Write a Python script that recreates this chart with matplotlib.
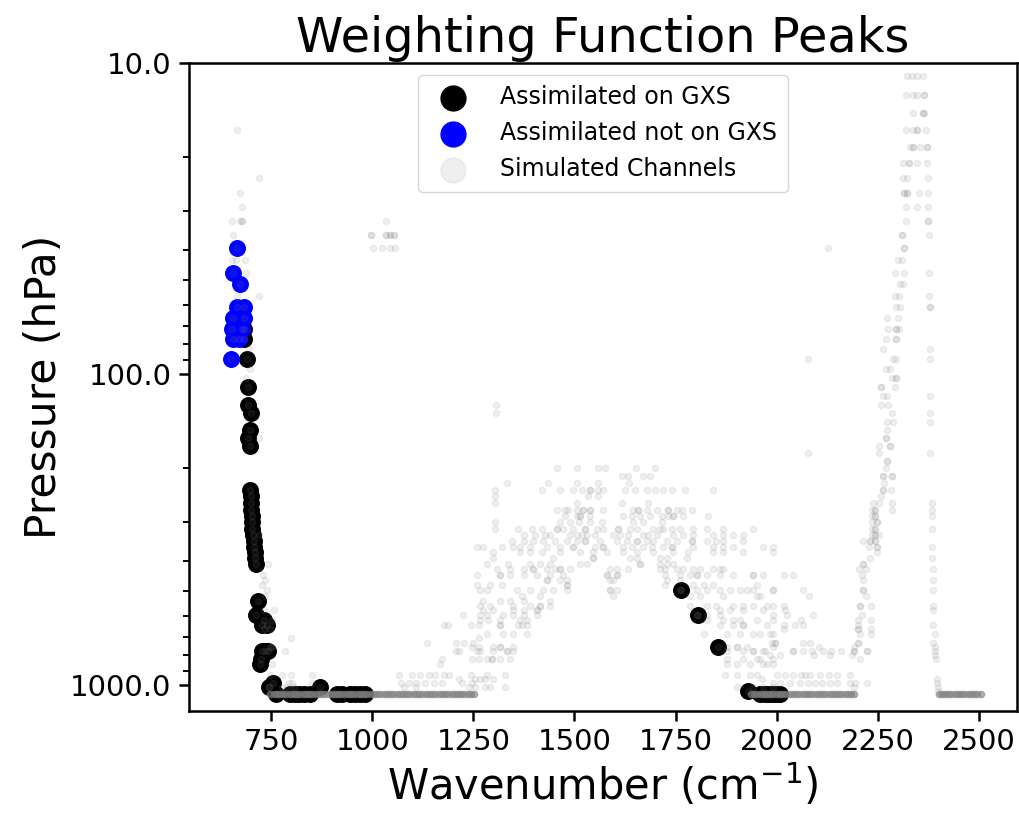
import matplotlib
matplotlib.use("Agg")
import matplotlib.pyplot as plt
from matplotlib.ticker import FixedLocator, FormatStrFormatter, LogLocator, NullFormatter

# Canaux assimilés présents sur GXS (noir) : nombre d'onde (cm-1) et pic de la fonction de poids (hPa)
gxs_wn = [682, 682, 691, 692, 692, 701, 699, 692, 697, 697, 701, 701, 701, 702, 703, 703, 705,
          707, 707, 710, 711, 713, 717, 713, 732, 728, 740, 728, 734, 742, 725, 722, 755, 746,
          761, 797, 808, 820, 832, 845, 872, 912, 925, 945, 958, 970, 982,
          1763, 1806, 1854, 1928, 1958, 1971, 1979, 1988, 1999, 2007]
gxs_p = [71.54, 77.24, 89.52, 110.24, 125.65, 133.85, 151.27, 160.50, 170.08, 235.23, 247.41,
         259.97, 272.92, 286.26, 300.0, 314.14, 328.68, 343.62, 358.97, 374.72, 390.89, 407.47,
         535.23, 596.31, 617.51, 639.14, 639.14, 777.79, 777.79, 777.79, 827.37, 852.79, 986.07,
         1013.95, 1070.92, 1070.92, 1070.92, 1070.92, 1070.92, 1070.92, 1013.95, 1070.92,
         1070.92, 1070.92, 1070.92, 1070.92, 1070.92,
         496.63, 596.31, 753.63, 1042.23, 1070.92, 1070.92, 1070.92, 1070.92, 1070.92, 1070.92]

# Canaux assimilés absents de GXS (bleu)
nogxs_wn = [666, 655, 674, 666, 682, 655, 682, 654, 678, 655, 670, 651]
nogxs_p = [39.26, 47.19, 51.53, 60.99, 60.99, 66.13, 66.13, 71.54, 71.54, 77.24, 77.24, 89.52]

# Canaux simulés, par niveau de pression : (hPa, [nombres d'onde])
sim_co2_lw = [
    (16.43, [666]), (23.45, [721]), (26.18, [674]), (29.12, [679]),
    (32.27, [654, 674, 678, 678]), (35.65, [656]), (43.10, [654, 662, 685]),
    (47.19, [689]), (56.13, [666, 720]), (83.23, [695]), (96.11, [697]),
    (103.02, [688]), (160.50, [720]), (328.68, [721]), (407.47, [742]),
    (441.88, [730]), (459.71, [736]), (477.96, [728]), (496.63, [740]),
    (515.72, [736]), (575.53, [732, 757]), (617.51, [753]), (661.19, [732, 748]),
    (706.57, [798]), (753.63, [748, 753]), (777.79, [785]), (852.79, [751]),
    (931.52, [748, 777, 798, 851]), (986.07, [794, 802, 851]),
    (1013.95, [744, 777, 790, 806]),
]

sim_window = [
    (32.27, [1035]),
    (35.65, [996, 996, 1033, 1033, 1045, 1045, 1055, 1055]),
    (39.26, [1002, 1024, 1045, 1057]),
]

sim_h2o = [
    (39.26, [2126]), (89.52, [2078]), (125.65, [1305]), (133.85, [1305]), (180.02, [2078]),
    (200.99, [1456, 1506, 1559, 1576, 1652, 1699]),
    (212.03, [1617, 1633, 1670, 1687]),
    (223.44, [1333, 1435, 1506, 1559, 1635]),
    (235.23, [1304, 1419, 1464, 1497, 1518, 1538, 1538, 1559, 1571, 1625, 1650, 1679, 1699,
              1720, 1740, 1773, 1843]),
    (247.41, [1304, 1534, 1559]),
    (259.97, [1304, 1506, 1617, 1682]),
    (272.92, [1456, 1477, 1485, 1506, 1522, 1522, 1538, 1538, 1571, 1645, 1658, 1658, 1679,
              1703, 1732, 1732, 1753, 1765, 1790]),
    (286.26, [1477, 1506, 1514, 1514, 1538, 1621, 1641, 1662, 1687, 1716, 1732, 1744, 1744,
              1769, 1831]),
    (300.0, [1304, 1464, 1489, 1510, 1538, 1567, 1645, 1670, 1716]),
    (314.14, [1304, 1361, 1394, 1419, 1456, 1456, 1472, 1497, 1526, 1526, 1555, 1571, 1608,
              1608, 1637, 1654, 1695, 1711, 1720, 1740, 1761, 1794, 1827, 1868, 1942]),
    (328.68, [1374, 1403, 1427, 1440, 1489, 1506, 1518, 1530, 1551, 1596, 1613, 1633, 1670,
              1682, 1703, 1744, 1769, 1794, 1843, 1868, 1893, 1917]),
    (343.62, [1345, 1374, 1398, 1423, 1452, 1481, 1506, 1526, 1526, 1563, 1604, 1629, 1654,
              1654, 1679, 1695, 1728, 1753, 1790, 1790, 1827, 1851, 1868, 1917]),
    (358.97, [1259, 1275, 1320, 1349, 1365, 1390, 1431, 1464, 1497, 1497, 1551, 1571, 1571,
              1621, 1641, 1670, 1691, 1720, 1740, 1740, 1794, 1843, 1868, 1893, 1967, 1992]),
    (374.72, [1299, 1365, 1390, 1419, 1464, 1514, 1547, 1580, 1621, 1654, 1695, 1744, 1781,
              1843, 1868, 1917, 1992]),
    (390.89, [1299, 1448, 1547, 1547, 1637, 1654, 1711, 1728, 1777]),
    (407.47, [1283, 1336, 1390, 1415, 1440, 1514, 1530, 1662, 1662, 1711, 1728, 1744]),
    (424.47, [1308, 1341, 1374, 1398, 1398, 1431, 1452, 1464, 1464, 1489, 1588, 1604, 1633,
              1711, 1723, 1753, 1769, 1794, 1810, 1843, 1860, 1868]),
    (441.88, [1259, 1316, 1316, 1341, 1374, 1407, 1440, 1472, 1580, 1580, 1604, 1604, 1723,
              1761, 1786, 1802, 1802, 1827, 1860, 1893, 1942, 1942, 1967, 2017, 2041]),
    (459.71, [1431, 1431, 1464, 1481, 1588, 1596, 1728, 1761]),
    (477.96, [1259, 1291, 1320, 1481, 1481, 1723, 1794, 1819, 1843, 1950]),
    (496.63, [1266, 1283, 1357, 1390, 1423, 1448, 1481, 1588, 1588, 1604, 1761, 1802, 1827,
              1860, 1885, 1910, 1926, 1942, 1992, 1992, 2066]),
    (515.72, [1370, 1415, 1596, 1786, 1810, 1868, 1950, 1959, 2080]),
    (535.23, [1275, 1316, 1341, 1374, 1440]),
    (555.17, [1266, 1291, 1349, 1390, 1415, 1415, 1440, 1786, 1827, 1851, 1893, 1917, 1942,
              1975, 1992, 2017]),
    (575.53, [1275, 1299, 1349, 1374, 1407, 1407, 1860, 1885, 1917, 1967, 2020]),
    (596.31, [1225, 1266, 1283, 1324, 1349, 1374, 1407, 1802, 1827, 1860, 1992, 2025, 2089]),
    (617.51, [1267, 1287, 1316, 1365, 1382, 1827, 1868, 1893, 1910, 1950, 1992, 2061]),
    (639.14, [1177, 1188, 1243, 1263, 1316, 1316, 1361, 1370, 1382, 1860, 1893, 1917, 1917,
              1975, 2017, 2045, 2064]),
    (661.19, [2017]),
    (683.67, [1283, 1324, 1349, 1382, 1819, 1876, 1910, 1942, 1983, 1959, 1992]),
    (706.57, [1263]),
    (729.89, [1136, 1206, 1226, 1250, 1988, 1996, 1996, 2066, 2082]),
    (753.63, [1246, 1263, 1299, 1316, 1316, 1349, 1876, 1901, 1901, 1926, 1992, 2104]),
    (777.79, [1208, 1214, 1259, 1267, 1299, 1333, 1333, 1349, 1876, 1917, 1942, 1942, 1967,
              1971, 2041, 2041, 2066, 2086, 2115, 2135, 2160]),
    (802.37, [1983, 2008, 2091, 2132]),
    (827.37, [1173, 1246, 1263, 1283, 1295, 1295, 1316, 1341, 1876, 1917, 1950, 1959, 1992]),
    (852.79, [1168, 1876, 1901, 1934, 1967, 1975, 1992]),
    (931.52, [1066, 1099, 1119, 1140, 1156, 1177, 1189, 1243, 1283, 1328, 1872, 1901, 1934,
              1950, 2000, 2020, 2041, 2061, 2070, 2082, 2107, 2128, 2148, 2181]),
    (958.59, [1214, 1255, 1267, 1279, 1299, 1963]),
    (986.07, [1070, 1090, 1107, 1131, 1152, 1173, 1222, 1247, 1992, 2008, 2033, 2057, 2078,
              2094, 2111, 2132, 2148, 2181, 2193]),
    (1013.95, [1078, 1107, 1239, 1255, 1279, 1291, 1328, 1901, 1942, 1967, 1992]),
]

sim_co2_sw = [
    (11.00, [2321, 2334, 2346, 2361]), (12.65, [2320, 2338, 2346, 2364, 2364]),
    (14.46, [2336, 2361, 2361, 2364]), (16.43, [2320, 2336, 2348, 2348, 2368]),
    (18.58, [2329, 2338, 2338, 2353, 2371, 2371]), (20.92, [2312, 2326, 2326, 2348, 2371]),
    (23.45, [2312, 2321, 2375]), (26.18, [2314, 2314, 2321, 2321, 2351, 2373]),
    (29.12, [2320, 2346, 2375]), (32.27, [2320, 2375, 2375]), (35.65, [2309, 2309, 2377]),
    (39.26, [2314, 2314]), (43.10, [2300, 2309]), (47.19, [2292, 2314, 2377]),
    (51.53, [2305, 2311]), (56.13, [2292, 2303, 2377]), (60.99, [2296, 2305, 2379, 2379]),
    (66.13, [2273, 2300]), (71.54, [2276, 2296, 2296, 2303]), (77.24, [2270, 2295, 2295]),
    (83.23, [2263, 2380]), (89.52, [2288, 2296, 2380]), (96.11, [2270, 2280]),
    (103.02, [2284, 2295, 2295]), (110.24, [2257, 2258, 2292]), (117.78, [2262, 2272, 2380]),
    (125.65, [2257, 2276]), (133.85, [2286, 2380]), (142.39, [2273, 2287, 2380]),
    (151.27, [2272]), (160.50, [2270, 2270]), (170.08, [2252, 2279, 2279]),
    (180.02, [2252, 2380]), (190.32, [2273, 2273]), (200.99, [2270]),
    (212.03, [2262, 2262, 2284, 2284]), (223.44, [2266]), (235.23, [2262, 2262, 2283]),
    (247.41, [2257]), (259.97, [2239, 2254, 2284, 2383]), (272.92, [2235, 2243, 2243, 2284, 2383]),
    (286.26, [2235, 2243, 2243, 2383]), (300.0, [2235, 2247, 2247]),
    (314.14, [2235, 2243, 2243, 2385]), (328.68, [2235, 2243, 2243, 2254]),
    (343.62, [2214, 2231, 2231, 2243, 2243]), (358.97, [2229, 2247, 2247, 2385]),
    (374.72, [2247]), (390.89, [2231, 2385]), (407.47, [2214, 2214]),
    (424.47, [2204, 2221, 2387]), (441.88, [2212]), (459.71, [2213, 2387]),
    (496.63, [2214, 2214, 2387]), (515.72, [2221]), (555.17, [2207, 2207, 2232, 2387]),
    (575.53, [2387]), (596.31, [2212]), (617.51, [2202, 2232]), (639.14, [2202, 2387]),
    (661.19, [2202, 2202, 2232]), (683.67, [2207, 2232, 2391]), (729.89, [2202, 2202, 2387]),
    (753.63, [2190, 2391]), (777.79, [2190, 2190, 2223, 2223, 2391]), (802.37, [2185, 2391]),
    (827.37, [2207, 2394]), (958.59, [2395]), (986.07, [2223, 2397]),
    (1013.95, [2190, 2399]), (1042.23, [2398]),
]

# Canaux simulés dont le pic est à la surface (très denses)
sfc_p = 1070.92
sfc_wn = [748, 756, 764, 772, 780, 788, 796, 804, 812, 820, 828, 836, 844, 852, 860, 868,
          876, 884, 892, 900, 908, 916, 924, 932, 940, 948, 956, 964, 972, 980, 988, 996,
          1004, 1012, 1020, 1028, 1036, 1044, 1052, 1060, 1068, 1076, 1084, 1092, 1100, 1108,
          1116, 1124, 1132, 1140, 1148, 1156, 1164, 1172, 1180, 1188, 1196, 1204, 1212, 1220,
          1228, 1236, 1244, 1252,
          1936, 1944, 1952, 1960, 1968, 1976, 1984, 1992, 2000, 2008, 2016, 2024, 2032, 2040,
          2048, 2056, 2064, 2072, 2080, 2088, 2096, 2104, 2112, 2120, 2128, 2136, 2144, 2152,
          2160, 2168, 2176, 2184, 2192,
          2400, 2408, 2416, 2424, 2432, 2440, 2448, 2456, 2464, 2472, 2480, 2488, 2496, 2504]

y_ticks = [10, 100, 1000]
x_ticks = [750, 1000, 1250, 1500, 1750, 2000, 2250, 2500]


def aplatir(*groupes):
    xs, ys = [], []
    for groupe in groupes:
        for p, wns in groupe:
            xs += wns
            ys += [p] * len(wns)
    return xs, ys


sim_wn, sim_p = aplatir(sim_co2_lw, sim_window, sim_h2o, sim_co2_sw)
# les canaux assimilés font aussi partie des canaux simulés
sim_wn += gxs_wn + nogxs_wn
sim_p += gxs_p + nogxs_p

fig = plt.figure(figsize=(10.19, 8.15), dpi=100)
ax = fig.add_axes([189 / 1019, 1 - 711 / 815, (1017 - 189) / 1019, (711 - 63) / 815])

ax.scatter(gxs_wn, gxs_p, s=125, color="black", label="Assimilated on GXS", zorder=2)
ax.scatter(nogxs_wn, nogxs_p, s=125, color="blue", label="Assimilated not on GXS", zorder=3)
ax.scatter(sim_wn, sim_p, s=20, color="gray", alpha=0.12, label="Simulated Channels", zorder=4)
ax.scatter(sfc_wn, [sfc_p] * len(sfc_wn), s=20, color="gray", alpha=0.6, zorder=4)

ax.set_yscale("log")
ax.set_ylim(1212, 10)
ax.set_xlim(547, 2594)
ax.yaxis.set_major_locator(FixedLocator(y_ticks))
ax.yaxis.set_major_formatter(FormatStrFormatter("%.1f"))
ax.yaxis.set_minor_locator(LogLocator(base=10, subs=range(2, 10)))
ax.yaxis.set_minor_formatter(NullFormatter())
ax.set_xticks(x_ticks)

for sp in ax.spines.values():
    sp.set_linewidth(1.8)
ax.tick_params(which="major", length=7.5, width=1.8, labelsize=21, pad=5)
ax.tick_params(which="minor", length=4.5, width=1.4)

ax.set_title("Weighting Function Peaks", fontsize=34.5, pad=8)
ax.set_xlabel("Wavenumber (cm$^{-1}$)", fontsize=30)
ax.set_ylabel("Pressure (hPa)", fontsize=30.5)

leg = ax.legend(loc="upper center", fontsize=17, borderpad=0.45, labelspacing=0.5,
                handletextpad=1.0, handlelength=2.0)
for h in leg.legend_handles:
    h.set_sizes([320])

fig.savefig("out.png", dpi=100)
